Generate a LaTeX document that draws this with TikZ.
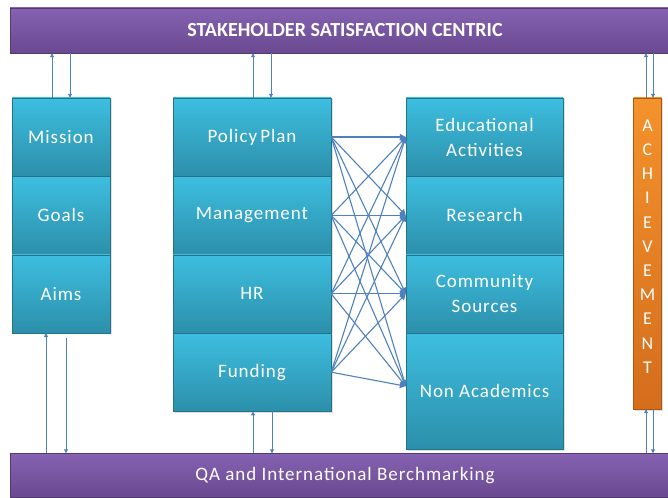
\documentclass[tikz,border=0pt]{standalone}
\usepackage{fontspec}
\setmainfont{Carlito}
\newfontfamily\cellfont{Carlito}[LetterSpace=5]
\usepackage{tikz}
\usetikzlibrary{arrows.meta,positioning,shadows}

\definecolor{tealtop}{HTML}{3DBEE0}
\definecolor{tealbot}{HTML}{2C8FAA}
\definecolor{purptop}{HTML}{8662B2}
\definecolor{purpbot}{HTML}{694990}
\definecolor{orantop}{HTML}{F4922C}
\definecolor{oranbot}{HTML}{D56D1C}
\definecolor{linkblue}{HTML}{4F81BD}

\tikzset{
  cell/.style={rectangle, top color=tealtop, bottom color=tealbot,
    draw=tealbot!80!black, line width=0.4pt, text=white,
    font=\cellfont\fontsize{19}{25}\selectfont, align=center,
    inner sep=0pt, drop shadow={opacity=0.25, shadow xshift=1.5pt, shadow yshift=-1.5pt}},
  band/.style={rectangle, top color=purptop, bottom color=purpbot,
    draw=purpbot!80!black, line width=0.4pt, text=white, inner sep=0pt,
    drop shadow={opacity=0.25, shadow xshift=1.5pt, shadow yshift=-1.5pt}},
  link/.style={linkblue, line width=1.1pt, -{Triangle[length=6pt,width=6pt]}},
  updown/.style={linkblue, line width=0.9pt, -{Triangle[length=4pt,width=4pt]}}
}

\begin{document}
\begin{tikzpicture}[x=1pt, y=-1pt]
  \useasboundingbox (0,0) rectangle (668,497);

  % Bands
  \node[band, minimum width=658pt, minimum height=45pt,
    font=\bfseries\fontsize{20}{24}\selectfont] (top) at (339,30.5)
    {\hspace{12pt}STAKEHOLDER SATISFACTION CENTRIC};
  \node[band, minimum width=658pt, minimum height=44pt,
    font=\cellfont\fontsize{19}{24}\selectfont] (bottom) at (339,475.5)
    {\hspace{12pt}QA and International Berchmarking};

  % Left column
  \node[cell, minimum width=98pt, minimum height=78pt] (mission) at (61,137) {Mission};
  \node[cell, minimum width=98pt, minimum height=78pt, below=0pt of mission] (goals) {Goals};
  \node[cell, minimum width=98pt, minimum height=78pt, below=0pt of goals] (aims) {Aims};

  % Middle column
  \node[cell, minimum width=158pt, minimum height=78pt] (policy) at (252,137) {Policy\,Plan};
  \node[cell, minimum width=158pt, minimum height=78pt, below=0pt of policy] (manage) {Management};
  \node[cell, minimum width=158pt, minimum height=78pt, below=0pt of manage] (hr) {HR};
  \node[cell, minimum width=158pt, minimum height=78pt, below=0pt of hr] (funding) {Funding};

  % Right column
  \node[cell, minimum width=157pt, minimum height=78pt] (edu) at (484.5,137) {Educational\\Activities};
  \node[cell, minimum width=157pt, minimum height=78pt, below=0pt of edu] (research) {Research};
  \node[cell, minimum width=157pt, minimum height=78pt, below=0pt of research] (community) {Community\\Sources};
  \node[cell, minimum width=157pt, minimum height=116pt, below=0pt of community] (nonacad) {Non Academics};

  % Achievement bar
  \node[rectangle, top color=orantop, bottom color=oranbot, draw=oranbot!80!black,
    line width=0.4pt, inner sep=0pt, minimum width=28pt, minimum height=311pt,
    drop shadow={opacity=0.25, shadow xshift=1.5pt, shadow yshift=-1.5pt},
    label={[text=white, align=center, inner sep=0pt, yshift=7pt,
      font=\cellfont\fontsize{18}{24.2}\selectfont]center:A\\C\\H\\I\\E\\V\\E\\M\\E\\N\\T}]
    (achieve) at (647.5,253.5) {};

  % Links between middle and right columns
  \foreach \src in {policy,manage,hr,funding}
    \foreach \dst in {edu,research,community}
      \draw[link] (\src.east) -- (\dst.west);
  \foreach \src in {policy,manage,hr,funding}
    \draw[link] (\src.east) -- ([yshift=5pt]nonacad.west);

  % Arrows to and from the top band
  \draw[updown] ([xshift=-9pt]mission.north) -- ([xshift=-9pt]mission.north |- top.south);
  \draw[updown] ([xshift=9pt]mission.north |- top.south) -- ([xshift=9pt]mission.north);
  \draw[updown] ([xshift=1pt]policy.north) -- ([xshift=1pt]policy.north |- top.south);
  \draw[updown] ([xshift=19pt]policy.north |- top.south) -- ([xshift=19pt]policy.north);
  \draw[updown] ([xshift=-1.5pt]achieve.north) -- ([xshift=-1.5pt]achieve.north |- top.south);
  \draw[updown] ([xshift=5.5pt]achieve.north |- top.south) -- ([xshift=5.5pt]achieve.north);

  % Arrows to and from the bottom band
  \draw[updown] ([xshift=-15pt]aims.south |- bottom.north) -- ([xshift=-15pt]aims.south);
  \draw[updown] ([xshift=5pt,yshift=-5pt]aims.south) -- ([xshift=5pt]aims.south |- bottom.north);
  \draw[updown] ([xshift=1pt]funding.south |- bottom.north) -- ([xshift=1pt]funding.south);
  \draw[updown] ([xshift=20pt]funding.south) -- ([xshift=20pt]funding.south |- bottom.north);
  \draw[updown] ([xshift=-1.5pt]achieve.south |- bottom.north) -- ([xshift=-1.5pt]achieve.south);
  \draw[updown] ([xshift=5.5pt]achieve.south) -- ([xshift=5.5pt]achieve.south |- bottom.north);
\end{tikzpicture}
\end{document}
